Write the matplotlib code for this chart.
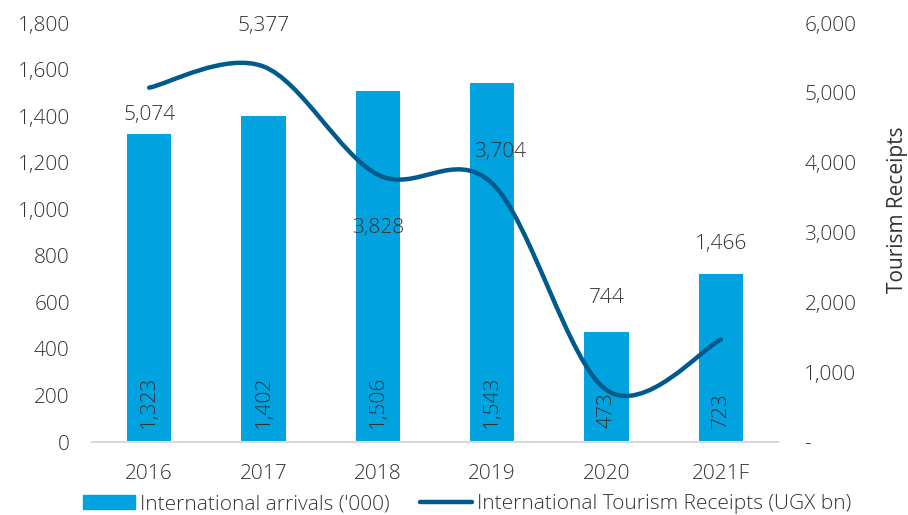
import matplotlib
matplotlib.use("Agg")
import matplotlib.pyplot as plt
from matplotlib.path import Path
from matplotlib.patches import PathPatch
from matplotlib.lines import Line2D
from matplotlib.patches import Patch
from matplotlib.ticker import FuncFormatter, MultipleLocator

years = ["2016", "2017", "2018", "2019", "2020", "2021F"]
arrivals = [1323, 1402, 1506, 1543, 473, 723]
receipts = [5074, 5377, 3828, 3704, 744, 1466]
# label offsets (pixels) for line labels, from the reference picture
rec_label_off = [(0, -27), (0, 41), (0, -53), (8, 31), (0, 92), (0, 96)]

BAR = "#00A3E0"
LINE = "#005A8C"
TXT = "#333333"

plt.rcParams['font.family'] = ['Open Sans', 'DejaVu Sans']
plt.rcParams['font.size'] = 15
plt.rcParams['font.weight'] = 'light'

fig = plt.figure(figsize=(9.08, 5.15), dpi=100)
ax = fig.add_axes([92/908, 1-442/515, (778-92)/908, (442-23)/515])
ax2 = ax.twinx()

x = list(range(len(years)))
ax.bar(x, arrivals, width=0.385, color=BAR, zorder=2)
ax.set_xlim(-0.5, len(years)-0.5)
ax.set_ylim(0, 1800)
ax.yaxis.set_major_locator(MultipleLocator(200))
ax.yaxis.set_major_formatter(FuncFormatter(lambda v, p: f"{int(v):,}"))
ax.set_xticks(x)
ax.set_xticklabels(years)

for i, v in enumerate(arrivals):
    ax.annotate(f"{v:,}", (i, 0), xytext=(0, 14), textcoords='offset pixels',
                rotation=90, ha='center', va='bottom', color=TXT, fontsize=15)

# smoothed line (Excel style bezier)
pts = list(zip(x, receipts))
verts = [pts[0]]
codes = [Path.MOVETO]
n = len(pts)
for i in range(n-1):
    p0 = pts[i-1] if i > 0 else pts[i]
    p1 = pts[i]
    p2 = pts[i+1]
    p3 = pts[i+2] if i+2 < n else pts[i+1]
    c1 = (p1[0] + (p2[0]-p0[0])/6, p1[1] + (p2[1]-p0[1])/6)
    c2 = (p2[0] - (p3[0]-p1[0])/6, p2[1] - (p3[1]-p1[1])/6)
    verts += [c1, c2, p2]
    codes += [Path.CURVE4]*3
ax2.add_patch(PathPatch(Path(verts, codes), facecolor='none', edgecolor=LINE,
                        lw=3.2, capstyle='round', zorder=3))
ax2.set_ylim(0, 6000)
ax2.yaxis.set_major_locator(MultipleLocator(1000))
ax2.yaxis.set_major_formatter(FuncFormatter(lambda v, p: "-" if v == 0 else f"{int(v):,}"))
ax2.set_ylabel("Tourism Receipts", color=TXT, fontsize=15)
ax2.yaxis.set_label_coords((887-92)/686, 0.555)

for i, v in enumerate(receipts):
    dx, dy = rec_label_off[i]
    ax2.annotate(f"{v:,}", (i, v), xytext=(dx, dy), textcoords='offset pixels',
                 ha='center', va='center', color=TXT, fontsize=15)

for a in (ax, ax2):
    for s in a.spines.values():
        s.set_visible(False)
    a.tick_params(length=0, colors=TXT, labelsize=15)
ax.spines['bottom'].set_visible(True)
ax.spines['bottom'].set_color('#D9D9D9')
ax.spines['bottom'].set_linewidth(1.5)
ax.tick_params(axis='y', pad=16)
ax.tick_params(axis='x', pad=16)
ax2.tick_params(axis='y', pad=19)

handles = [Patch(color=BAR), Line2D([0], [0], color=LINE, lw=3.2, solid_capstyle='round')]
labels = ["International arrivals ('000)", "International Tourism Receipts (UGX bn)"]
fig.legend(handles, labels, loc='lower left', bbox_to_anchor=(64/908, -18/515), ncol=2,
           frameon=False, fontsize=15, handlelength=2.5, handletextpad=0.25,
           columnspacing=1.45, labelcolor=TXT)

fig.savefig("out.png", dpi=100)
